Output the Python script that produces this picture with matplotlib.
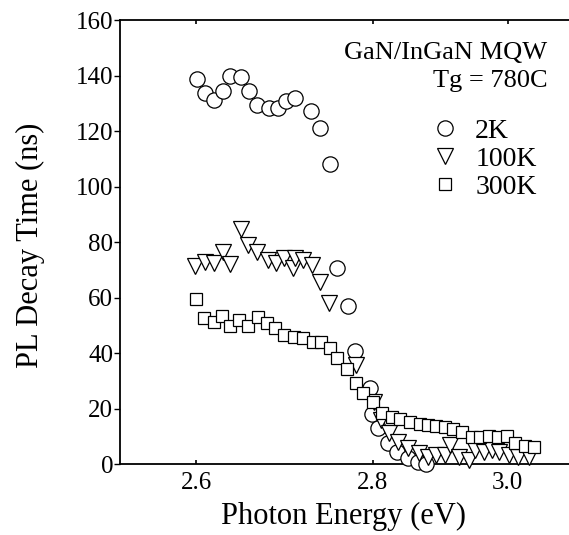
import numpy as np
import matplotlib
matplotlib.use("Agg")
import matplotlib.pyplot as plt

plt.rcParams['font.family'] = ['Liberation Serif', 'DejaVu Serif']

# PL decay time (ns) vs photon energy (eV)
e_2k = [2.601, 2.610, 2.620, 2.630, 2.638, 2.651, 2.660, 2.669, 2.683, 2.693,
        2.702, 2.712, 2.730, 2.740, 2.752, 2.760, 2.772, 2.780, 2.797, 2.799,
        2.806, 2.817, 2.828, 2.840, 2.851, 2.860]
t_2k = [138.9, 133.7, 131.3, 134.7, 140.0, 139.7, 134.7, 129.5, 128.5, 128.3,
        131.1, 131.9, 127.3, 121.3, 108.1, 70.6, 57.0, 40.9, 27.3, 17.9,
        12.9, 7.5, 4.4, 2.1, 0.8, 0.0]

e_100k = [2.599, 2.610, 2.620, 2.630, 2.639, 2.651, 2.659, 2.669, 2.681, 2.691,
          2.700, 2.710, 2.712, 2.721, 2.731, 2.740, 2.750, 2.781, 2.801, 2.809,
          2.819, 2.829, 2.840, 2.852, 2.863, 2.872, 2.882, 2.888, 2.898, 2.909,
          2.916, 2.926, 2.935, 2.943, 2.954, 2.965, 2.977]
t_100k = [71.5, 73.0, 72.6, 76.6, 72.0, 84.8, 79.0, 76.6, 73.6, 72.4,
          74.2, 70.6, 74.2, 73.6, 71.8, 65.8, 58.0, 35.7, 22.5, 15.9,
          11.1, 8.0, 5.7, 3.9, 2.6, 3.2, 3.2, 6.9, 2.4, 1.4,
          5.1, 4.4, 5.1, 4.4, 3.2, 2.6, 2.6]

e_300k = [2.600, 2.609, 2.620, 2.629, 2.639, 2.649, 2.659, 2.670, 2.680, 2.689,
          2.700, 2.711, 2.721, 2.732, 2.742, 2.752, 2.760, 2.771, 2.781, 2.789,
          2.800, 2.810, 2.822, 2.831, 2.842, 2.853, 2.863, 2.872, 2.882, 2.891,
          2.901, 2.912, 2.921, 2.932, 2.942, 2.952, 2.961, 2.972, 2.983]
t_300k = [59.5, 52.6, 51.3, 53.4, 49.8, 51.9, 49.8, 52.9, 51.0, 49.0,
          46.5, 45.7, 45.3, 44.1, 44.1, 41.7, 38.1, 34.2, 29.3, 25.5,
          22.5, 18.5, 17.1, 16.1, 15.3, 14.4, 14.1, 13.7, 13.3, 12.7,
          11.7, 9.6, 9.8, 10.1, 9.6, 10.1, 7.5, 6.5, 6.0]

fig = plt.figure(figsize=(5.69, 5.35), dpi=100)
ax = fig.add_axes([0.211, 0.1327, 0.789, 0.829])

mk = dict(linestyle='none', markerfacecolor='white', markeredgecolor='black',
          markeredgewidth=0.9, clip_on=False)
ax.plot(e_2k, t_2k, marker='o', markersize=11, label='2K', zorder=3, **mk)
ax.plot(e_100k, t_100k, marker='v', markersize=11.5, label='100K', zorder=4, **mk)
ax.plot(e_300k, t_300k, marker='s', markersize=8.5, label='300K', zorder=5, **mk)

ax.set_xlim(2.514, 3.0222)
ax.set_ylim(0, 160)

ax.set_yticks(np.arange(0, 161, 20))
ax.set_xticks([2.6, 2.8, 2.9526], ['2.6', '2.8', '3.0'])
ax.xaxis.get_major_ticks()[2].tick1line.set_visible(False)
ax.xaxis.get_major_ticks()[2].tick2line.set_visible(False)
ax.tick_params(axis='x', direction='in', length=3, width=1.2, top=True,
               labelsize=18, pad=6)
ax.tick_params(axis='y', direction='out', length=4, width=1.0, pad=1,
               labelsize=18)

ax.spines['right'].set_visible(False)
for s in ['left', 'top', 'bottom']:
    ax.spines[s].set_linewidth(1.3)

ax.set_xlabel('Photon Energy (eV)', fontsize=22)
ax.set_ylabel('PL Decay Time (ns)', fontsize=22)
ax.xaxis.set_label_coords(0.497, -0.085)
ax.yaxis.set_label_coords(-0.168, 0.494)

ax.text(0.952, 0.926, 'GaN/InGaN MQW', transform=ax.transAxes, fontsize=19,
        ha='right', va='center')
ax.text(0.952, 0.863, 'Tg = 780C', transform=ax.transAxes, fontsize=19,
        ha='right', va='center')

ax.legend(loc='upper left', bbox_to_anchor=(0.692, 0.78), frameon=False,
          fontsize=20, handlelength=1.0, handletextpad=0.6, labelspacing=0.1,
          borderpad=0, borderaxespad=0)

fig.savefig('out.png', dpi=100)
